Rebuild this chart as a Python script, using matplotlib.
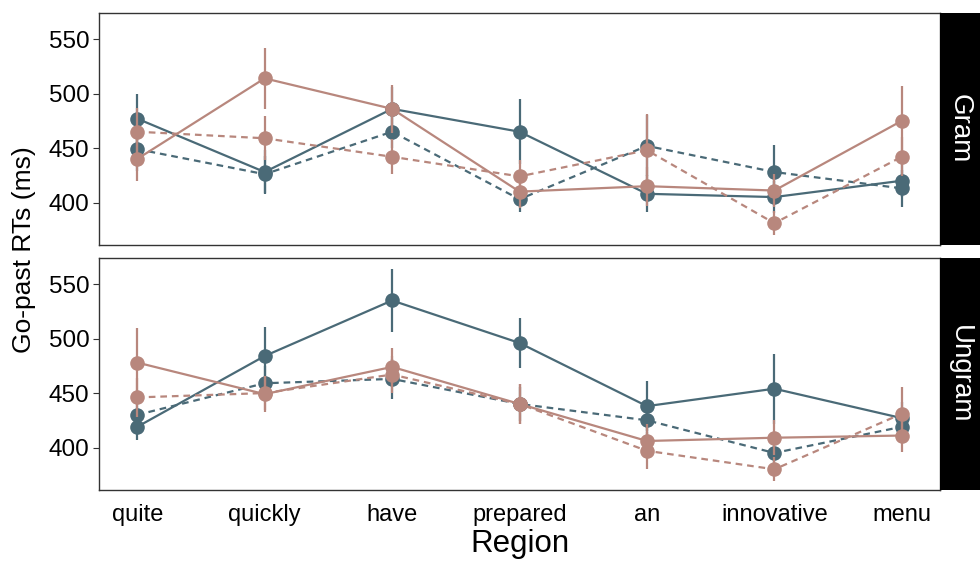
import matplotlib.pyplot as plt

# regions on the x axis
regions = ["quite", "quickly", "have", "prepared", "an", "innovative", "menu"]

# Gram panel
gram_dark_solid = [477, 428, 486, 465, 408, 405, 420]
gram_dark_dash = [449, 426, 465, 403, 452, 428, 413]
gram_rose_solid = [440, 514, 486, 410, 415, 411, 475]
gram_rose_dash = [465, 459, 442, 424, 448, 381, 442]
gram_dark_solid_err = [23, 20, 20, 30, 17, 15, 15]
gram_dark_dash_err = [20, 17, 15, 12, 28, 25, 17]
gram_rose_solid_err = [20, 28, 22, 15, 18, 15, 32]
gram_rose_dash_err = [22, 20, 16, 15, 33, 11, 18]

# Ungram panel
ungram_dark_solid = [419, 484, 535, 496, 438, 454, 427]
ungram_dark_dash = [430, 459, 463, 440, 425, 395, 419]
ungram_rose_solid = [478, 449, 474, 440, 406, 409, 411]
ungram_rose_dash = [446, 450, 467, 440, 397, 380, 431]
ungram_dark_solid_err = [12, 27, 29, 23, 23, 32, 15]
ungram_dark_dash_err = [14, 16, 18, 16, 16, 15, 14]
ungram_rose_solid_err = [32, 16, 17, 18, 16, 16, 15]
ungram_rose_dash_err = [18, 16, 17, 18, 17, 11, 25]

dark = "#4a6a77"
rose = "#b8877d"

plt.rcParams['font.family'] = ['Liberation Sans', 'DejaVu Sans']

fig = plt.figure(figsize=(9.8, 5.71), dpi=100)
W, H = 980, 571
ax1 = fig.add_axes([99 / W, 1 - 245 / H, 841 / W, 232 / H])
ax2 = fig.add_axes([99 / W, 1 - 490 / H, 841 / W, 232 / H])

x = list(range(len(regions)))

panels = [
    (ax1, "Gram",
     [(gram_dark_solid, gram_dark_solid_err, dark, "-"),
      (gram_dark_dash, gram_dark_dash_err, dark, "--"),
      (gram_rose_solid, gram_rose_solid_err, rose, "-"),
      (gram_rose_dash, gram_rose_dash_err, rose, "--")]),
    (ax2, "Ungram",
     [(ungram_dark_solid, ungram_dark_solid_err, dark, "-"),
      (ungram_dark_dash, ungram_dark_dash_err, dark, "--"),
      (ungram_rose_solid, ungram_rose_solid_err, rose, "-"),
      (ungram_rose_dash, ungram_rose_dash_err, rose, "--")]),
]

for ax, label, series in panels:
    for vals, err, col, ls in series:
        ax.errorbar(x, vals, yerr=err, color=col, ecolor=col, elinewidth=1.6,
                    capsize=0, linestyle="none")
        line, = ax.plot(x, vals, color=col, linestyle=ls, linewidth=1.6,
                        marker="o", markersize=10.5, markeredgewidth=0)
        if ls == "--":
            line.set_dashes((3, 2.2))
    ax.set_xlim(-0.3, 6.3)
    ax.set_ylim(361, 574)
    ax.set_yticks([400, 450, 500, 550])
    ax.tick_params(axis="y", labelsize=17.5, length=4, color="#333333", pad=3)
    for s in ax.spines.values():
        s.set_color("#333333")
        s.set_linewidth(1)
    # facet strip on the right
    pos = ax.get_position()
    strip = fig.add_axes([pos.x1, pos.y0, 40 / W, pos.height])
    strip.set_facecolor("black")
    strip.set_xticks([])
    strip.set_yticks([])
    for s in strip.spines.values():
        s.set_visible(False)
    strip.text(0.5, 0.5, label, rotation=-90, ha="center", va="center",
               color="white", fontsize=20, transform=strip.transAxes)

ax1.set_xticks(x)
ax1.tick_params(axis="x", bottom=False, labelbottom=False)
ax2.set_xticks(x)
ax2.set_xticklabels(regions)
ax2.tick_params(axis="x", labelsize=17, length=0, pad=10)
ax2.set_xlabel("Region", fontsize=22.5, labelpad=2)

fig.text(24 / W, 1 - 250 / H, "Go-past RTs (ms)", rotation=90, ha="center",
         va="center", fontsize=19)

fig.savefig("out.png", dpi=100)
